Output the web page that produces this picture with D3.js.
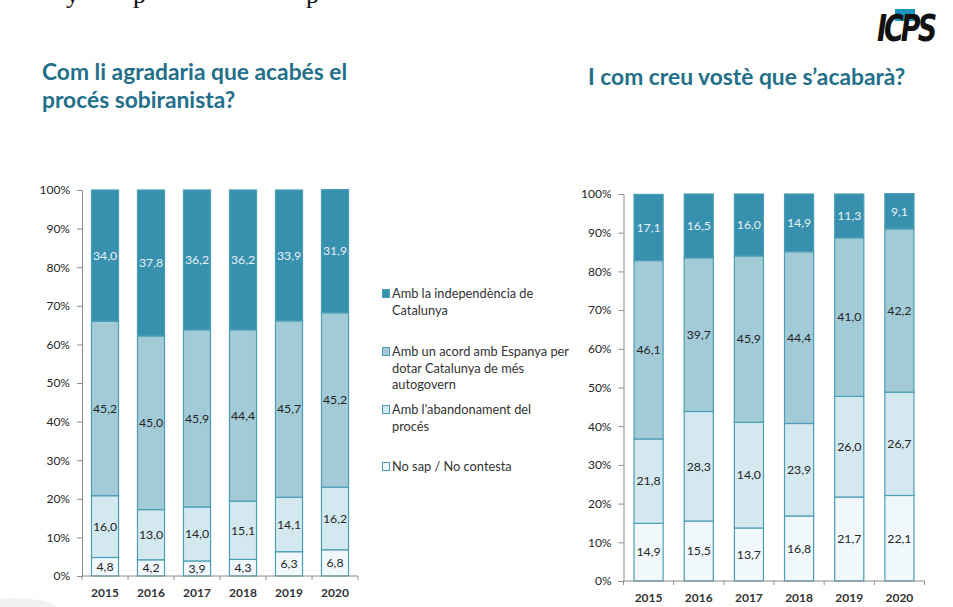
<!DOCTYPE html>
<html>
<head>
<meta charset="utf-8">
<script src="https://cdn.jsdelivr.net/npm/d3@7"></script>
<style>
  body { margin: 0; background: #fff; }
  svg { display: block; font-family: Lato, "Noto Sans", sans-serif; }
</style>
</head>
<body>
<svg id="chart" width="953" height="607"></svg>
<script>
var years = ["2015", "2016", "2017", "2018", "2019", "2020"];
var seriesNames = ["Amb la independència de Catalunya",
                   "Amb un acord amb Espanya per dotar Catalunya de més autogovern",
                   "Amb l'abandonament del procés",
                   "No sap / No contesta"];
var yTicks = [0, 10, 20, 30, 40, 50, 60, 70, 80, 90, 100];

// Com li agradaria que acabés el procés sobiranista?
var leftIndep = [34.0, 37.8, 36.2, 36.2, 33.9, 31.9];
var leftAcord = [45.2, 45.0, 45.9, 44.4, 45.7, 45.2];
var leftAband = [16.0, 13.0, 14.0, 15.1, 14.1, 16.2];
var leftNsnc  = [4.8, 4.2, 3.9, 4.3, 6.3, 6.8];

// I com creu vostè que s'acabarà?
var rightIndep = [17.1, 16.5, 16.0, 14.9, 11.3, 9.1];
var rightAcord = [46.1, 39.7, 43.0, 44.4, 41.0, 42.2];
var rightAband = [21.8, 28.3, 27.3, 23.9, 26.0, 26.7];
var rightNsnc  = [14.9, 15.5, 13.7, 16.8, 21.7, 22.1];
// the source prints these two labels for 2017 (copied from the other chart)
var rightPrinted = { "2017": { acord: "45,9", aband: "14,0" } };

var keys = ["nsnc", "aband", "acord", "indep"];
var colors = { indep: "#3790ad", acord: "#a2cbd7", aband: "#d3e9ef", nsnc: "#f0f8fc" };
var strokeColor = "#4c9db6";

var svg = d3.select("#chart");
var fmt = function(v) { return d3.format(".1f")(v).replace(".", ","); };

function buildRows(indep, acord, aband, nsnc) {
    return years.map(function(y, i) {
        return { year: y, indep: indep[i], acord: acord[i], aband: aband[i], nsnc: nsnc[i] };
    });
}

function drawChart(rows, opt) {
    var g = svg.append("g");
    var x = d3.scaleBand().domain(years).range([opt.x0, opt.x1])
        .paddingInner(opt.padIn).paddingOuter(opt.padOut);
    var y = d3.scaleLinear().domain([0, 100]).range([opt.y0, opt.y1]);
    var stack = d3.stack().keys(keys)(rows);

    g.selectAll(".layer")
        .data(stack)
        .enter()
        .append("g")
        .attr("fill", d => colors[d.key])
        .selectAll("rect")
        .data(d => d)
        .enter()
        .append("rect")
        .attr("x", d => x(d.data.year) + 0.5)
        .attr("y", d => y(d[1]))
        .attr("width", x.bandwidth() - 1)
        .attr("height", d => y(d[0]) - y(d[1]))
        .attr("stroke", strokeColor)
        .attr("stroke-width", 1.2);

    stack.forEach(function(layer) {
        g.selectAll(".lbl-" + layer.key)
            .data(layer)
            .enter()
            .append("text")
            .attr("x", d => x(d.data.year) + x.bandwidth() / 2)
            .attr("y", d => y((d[0] + d[1]) / 2))
            .attr("dy", "0.35em")
            .attr("text-anchor", "middle")
            .style("font-size", "12.3px")
            .style("fill", layer.key === "indep" ? "#e6f1f5" : "#262626")
            .text(function(d) {
                var fix = opt.printed && opt.printed[d.data.year];
                if (fix && fix[layer.key]) return fix[layer.key];
                return fmt(d.data[layer.key]);
            });
    });

    // y axis
    var yAxis = g.append("g")
        .attr("transform", "translate(" + opt.x0 + ",0)")
        .call(d3.axisLeft(y).tickValues(yTicks).tickSize(5).tickPadding(7)
            .tickFormat(d => d + "%"));
    yAxis.select(".domain").attr("stroke", "#8c8c8c");
    yAxis.selectAll(".tick line").attr("stroke", "#8c8c8c");
    yAxis.selectAll("text").style("font-size", "12px").style("fill", "#262626")
        .style("font-family", "Lato, sans-serif");

    // x axis with ticks between categories
    var xAxis = g.append("g").attr("transform", "translate(0," + opt.y0 + ")");
    xAxis.append("line").attr("x1", opt.x0).attr("x2", opt.x1)
        .attr("stroke", "#8c8c8c");
    xAxis.selectAll(".bt")
        .data(d3.range(years.length + 1))
        .enter()
        .append("line")
        .attr("x1", i => opt.x0 + i * x.step())
        .attr("x2", i => opt.x0 + i * x.step())
        .attr("y1", 0).attr("y2", 4)
        .attr("stroke", "#8c8c8c");
    xAxis.selectAll(".yl")
        .data(years)
        .enter()
        .append("text")
        .attr("x", d => x(d) + x.bandwidth() / 2)
        .attr("y", opt.yearY)
        .attr("text-anchor", "middle")
        .style("font-size", "12px")
        .style("font-weight", "bold")
        .style("fill", "#333")
        .text(d => d);
}

drawChart(buildRows(leftIndep, leftAcord, leftAband, leftNsnc),
    { x0: 82, x1: 358, y0: 576, y1: 190, padIn: 0.39, padOut: 0.195, yearY: 21 });
drawChart(buildRows(rightIndep, rightAcord, rightAband, rightNsnc),
    { x0: 623.5, x1: 924.5, y0: 581, y1: 194, padIn: 0.4, padOut: 0.2, yearY: 21,
      printed: rightPrinted });

// titles
var titleColor = "#236f89";
svg.append("text").attr("x", 42).attr("y", 80)
    .style("font-size", "22.8px").style("font-weight", "bold").style("fill", titleColor)
    .text("Com li agradaria que acabés el");
svg.append("text").attr("x", 42).attr("y", 108)
    .style("font-size", "22.8px").style("font-weight", "bold").style("fill", titleColor)
    .text("procés sobiranista?");
svg.append("text").attr("x", 588).attr("y", 85)
    .style("font-size", "22.8px").style("font-weight", "bold").style("fill", titleColor)
    .text("I com creu vostè que s\u2019acabarà?");

// legend
var legendLines = [
    ["Amb la independència de", "Catalunya"],
    ["Amb un acord amb Espanya per", "dotar Catalunya de més", "autogovern"],
    ["Amb l'abandonament del", "procés"],
    ["No sap / No contesta"]
];
var legendKeys = ["indep", "acord", "aband", "nsnc"];
var legendY = [294, 352, 410, 467];
var legend = svg.append("g");
legendKeys.forEach(function(k, i) {
    legend.append("rect")
        .attr("x", 382.5).attr("y", legendY[i] - 4.5)
        .attr("width", 7).attr("height", 8)
        .attr("fill", colors[k]).attr("stroke", strokeColor);
    legend.append("text")
        .attr("x", 392).attr("y", legendY[i])
        .style("font-size", "12.8px").style("fill", "#333")
        .selectAll("tspan")
        .data(legendLines[i])
        .enter()
        .append("tspan")
        .attr("x", 392)
        .attr("dy", (d, j) => j === 0 ? "0.35em" : "16.5px")
        .text(d => d);
});

// cut-off line of page text at the top
var topText = svg.append("g").style("font-family", "'Liberation Serif', serif")
    .style("font-size", "26px").style("fill", "#111");
topText.append("text").attr("x", 66).attr("y", 3).text("y");
topText.append("text").attr("x", 133).attr("y", 3).text("p");
topText.append("text").attr("x", 306).attr("y", 3).text("p");

// ICPS logo
var logo = svg.append("g");
logo.append("rect").attr("x", 895).attr("y", 9).attr("width", 20).attr("height", 12)
    .attr("fill", "#1c96c0");
logo.append("text")
    .attr("transform", "translate(877,41) scale(1,1.35)")
    .style("font-family", "'DejaVu Sans', sans-serif")
    .style("font-size", "27px").style("font-weight", "bold").style("font-style", "italic")
    .style("letter-spacing", "-3px")
    .style("fill", "#111")
    .text("ICPS");

// faint page shadow bottom left
svg.append("ellipse").attr("cx", 15).attr("cy", 612).attr("rx", 45).attr("ry", 14)
    .attr("fill", "#f1f1f1");
</script>
</body>
</html>
